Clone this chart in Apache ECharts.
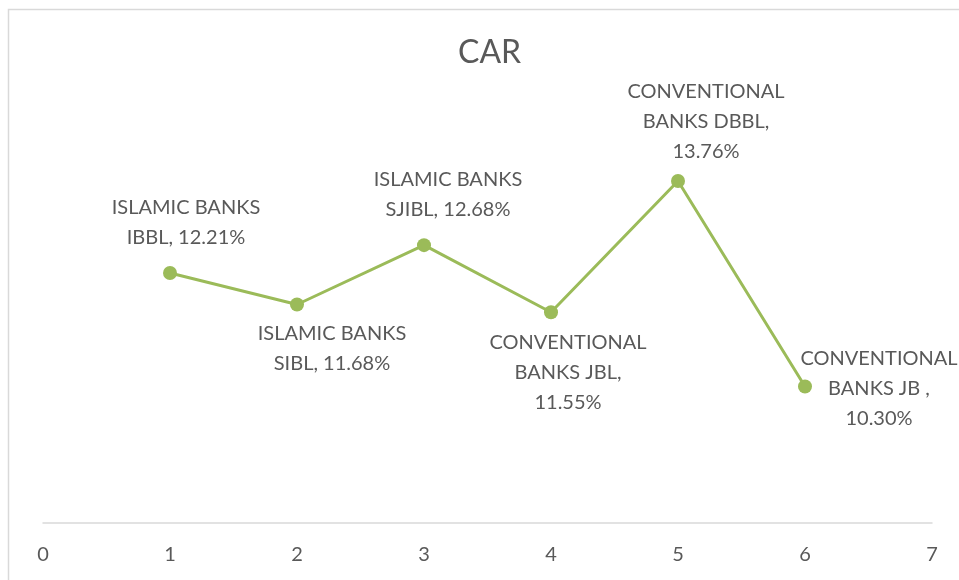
<!DOCTYPE html>
<html>
<head>
<meta charset="utf-8">
<script src="https://cdn.jsdelivr.net/npm/echarts@6/dist/echarts.min.js"></script>
<style>html,body{margin:0;padding:0;background:#fff}#c{width:959px;height:580px}</style>
</head>
<body>
<div id="c"></div>
<script>
const xValues = [1, 2, 3, 4, 5, 6];
const carValues = [12.21, 11.68, 12.68, 11.55, 13.76, 10.30];
const bankGroups = ["ISLAMIC BANKS", "ISLAMIC BANKS", "ISLAMIC BANKS", "CONVENTIONAL", "CONVENTIONAL", "CONVENTIONAL"];
const bankNames = ["IBBL, 12.21%", "SIBL, 11.68%", "SJIBL, 12.68%", "BANKS JBL,\n11.55%", "BANKS DBBL,\n13.76%", "BANKS JB ,\n10.30%"];
const xTicks = [0, 1, 2, 3, 4, 5, 6, 7];

const labelOffsets = [[16, -50], [35, 44], [24, -51], [17, 60], [28, -59], [74, 2]];

const chart = echarts.init(document.getElementById('c'), null, {renderer: 'canvas'});
const font = 'Lato, "Open Sans", sans-serif';
const data = xValues.map((x, i) => ({
  value: [x, carValues[i]],
  label: {
    show: true,
    formatter: bankGroups[i] + '\n' + bankNames[i],
    position: 'inside',
    offset: labelOffsets[i],
    align: 'center',
    verticalAlign: 'middle',
    color: '#595959',
    fontSize: 20,
    lineHeight: 30,
    fontFamily: font
  }
}));

chart.setOption({
  animation: false,
  backgroundColor: '#fff',
  title: {
    text: 'CAR',
    left: 453,
    top: 32,
    textStyle: {color: '#595959', fontSize: 32, fontWeight: 'normal', fontFamily: font}
  },
  graphic: [{
    type: 'rect',
    shape: {x: 8.5, y: 9.5, width: 1000, height: 1000},
    style: {fill: 'none', stroke: '#d9d9d9', lineWidth: 1.5},
    silent: true
  }],
  grid: {left: 43, right: 27, top: 48, bottom: 57},
  xAxis: {
    type: 'value',
    min: 0, max: 7, interval: 1,
    axisLine: {show: true, lineStyle: {color: '#d9d9d9', width: 1.5}},
    axisTick: {show: false},
    splitLine: {show: false},
    axisLabel: {
      color: '#595959', fontSize: 20, fontFamily: font, margin: 22,
      formatter: v => xTicks.includes(v) ? String(v) : ''
    }
  },
  yAxis: {
    type: 'value',
    min: 8, max: 16,
    show: false,
    splitLine: {show: false}
  },
  series: [{
    type: 'line',
    data: data,
    symbol: 'circle',
    symbolSize: 14,
    itemStyle: {color: '#9BBB59'},
    lineStyle: {color: '#9BBB59', width: 3}
  }]
});
</script>
</body>
</html>
